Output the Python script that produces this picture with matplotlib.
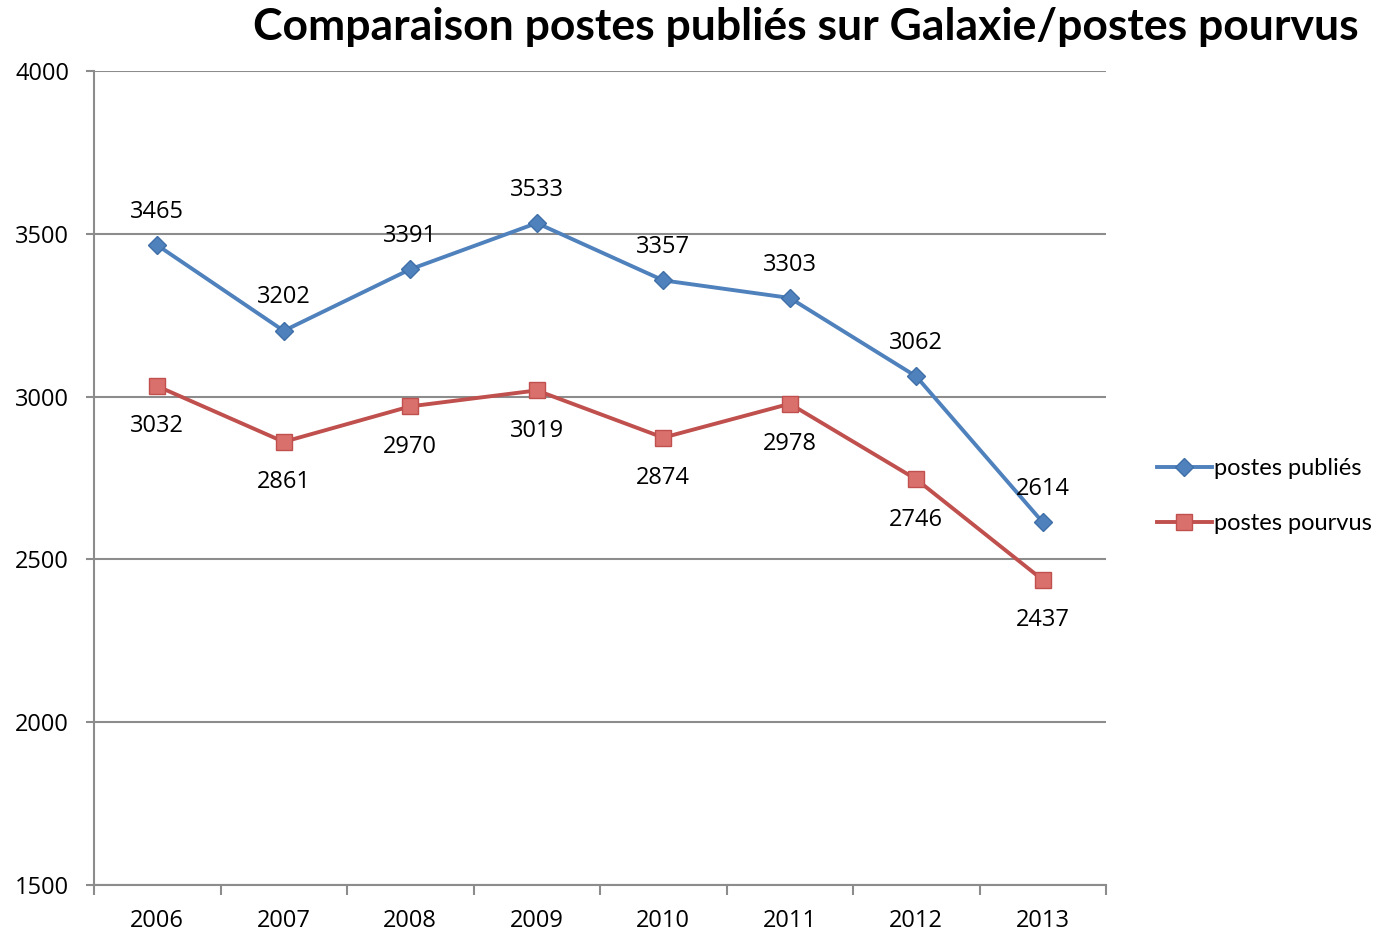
import matplotlib.pyplot as plt
import numpy as np

# Données
annees = ['2006', '2007', '2008', '2009', '2010', '2011', '2012', '2013']
postes_publies = [3465, 3202, 3391, 3533, 3357, 3303, 3062, 2614]
postes_pourvus = [3032, 2861, 2970, 3019, 2874, 2978, 2746, 2437]

plt.rcParams['font.family'] = ['Open Sans', 'DejaVu Sans']

bleu = '#4F81BD'
rouge = '#C0504D'
gris = '#8C8C8C'

fig = plt.figure(figsize=(13.83, 9.35), dpi=100)
ax = fig.add_axes([94 / 1383, 50 / 935, (1106 - 94) / 1383, (885 - 71) / 935])

x = np.arange(len(annees))
ax.plot(x, postes_publies, color=bleu, lw=2.8, marker='D', markersize=9,
        markerfacecolor=bleu, markeredgecolor='#3F6FA8', label='postes publiés', zorder=3)
ax.plot(x, postes_pourvus, color=rouge, lw=2.8, marker='s', markersize=11,
        markerfacecolor='#D9706C', markeredgecolor=rouge, label='postes pourvus', zorder=3)

# Étiquettes des valeurs
for xi, v in zip(x, postes_publies):
    ax.annotate(str(v), (xi, v), xytext=(0, 24), textcoords='offset points',
                ha='center', va='center', fontsize=17)
for xi, v in zip(x, postes_pourvus):
    ax.annotate(str(v), (xi, v), xytext=(0, -29), textcoords='offset points',
                ha='center', va='center', fontsize=17)

ax.set_xlim(-0.5, len(annees) - 0.5)
ax.set_ylim(1500, 4000)
ax.set_yticks(np.arange(1500, 4001, 500))
ax.set_xticks(x)
ax.set_xticklabels(annees)
ax.set_xticks(np.arange(-0.5, len(annees), 1), minor=True)
ax.tick_params(axis='x', which='major', length=0, labelsize=17, pad=17)
ax.tick_params(axis='x', which='minor', length=7, width=1.5, color=gris, direction='out')
ax.tick_params(axis='y', length=6, width=1.5, color=gris, labelsize=17, pad=12)

ax.grid(axis='y', color=gris, lw=1.5)
ax.set_axisbelow(True)
for s in ['top', 'right']:
    ax.spines[s].set_visible(False)
for s in ['left', 'bottom']:
    ax.spines[s].set_color(gris)
    ax.spines[s].set_linewidth(1.5)

fig.text(806 / 1383, 1 - 27 / 935, 'Comparaison postes publiés sur Galaxie/postes pourvus',
         ha='center', va='center', fontsize=32, fontweight='bold', family=['Lato', 'DejaVu Sans'])

fig.legend(loc='center left', bbox_to_anchor=(1136 / 1383, 1 - 496 / 935), frameon=False,
           prop={'family': ['Lato', 'DejaVu Sans'], 'size': 17},
           handlelength=2.3, handletextpad=0.1, labelspacing=1.45)

fig.savefig('out.png', dpi=100)
